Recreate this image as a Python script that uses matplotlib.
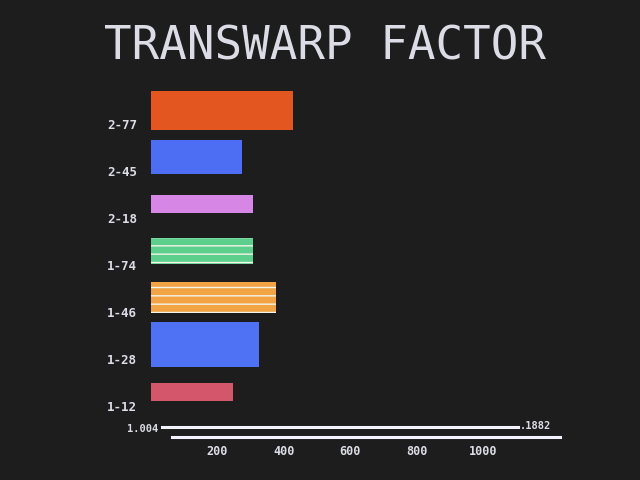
import numpy as np
import matplotlib.pyplot as plt

# data
labels = ['2-77', '2-45', '2-18', '1-74', '1-46', '1-28', '1-12']
values = [428, 274, 307, 307, 377, 325, 247]
colors = ['#e4561f', '#4d6ef2', '#d687e6', '#5ccf8c', '#f2a344', '#4f72f4', '#d4566a']
hatches = [None, None, None, '--', '--', None, None]
thick = [0.83, 0.72, 0.40, 0.55, 0.66, 0.96, 0.40]
xticks = [200, 400, 600, 800, 1000]

bg = '#1d1d1d'
fg = '#dcdce6'

fig = plt.figure(figsize=(6.4, 4.8), dpi=100, facecolor=bg)
# axes from x=151px to 560px, y=80px to 445px
ax = fig.add_axes([151/640, 1-445/480, (560-151)/640, (445-80)/480], facecolor=bg)

y = np.arange(len(labels))
for i in range(len(labels)):
    ec = '#f4f4e8' if hatches[i] else colors[i]
    ax.barh(y[i], values[i], height=thick[i], color=colors[i],
            edgecolor=ec, linewidth=0, hatch=hatches[i])

ax.set_xlim(0, 1232)
ax.set_ylim(7.13, -0.64)

for s in ax.spines.values():
    s.set_visible(False)

ax.set_yticks(y + 0.3)
ax.set_yticklabels(labels, color=fg, fontsize=9, family='DejaVu Sans Mono', fontweight='bold')
ax.tick_params(axis='y', length=0, pad=10)

ax.set_xticks(xticks)
ax.set_xticklabels([str(v) for v in xticks], color=fg, fontsize=8.5,
                   family='DejaVu Sans Mono', fontweight='bold')
ax.tick_params(axis='x', length=0, pad=0)

# double axis line at the bottom
ax.plot([33, 1104], [6.745, 6.745], color='#f2f2ff', lw=2.2, clip_on=False)
ax.plot([63, 1232], [6.957, 6.957], color='#f2f2ff', lw=2.2, clip_on=False)
ax.text(22, 6.8, '1.004', color=fg, fontsize=7.5, ha='right', va='center',
        family='DejaVu Sans Mono', fontweight='bold')
ax.text(1112, 6.72, '.1882', color=fg, fontsize=7.5, ha='left', va='center',
        family='DejaVu Sans Mono', fontweight='bold')

fig.text(325/640, 1-59/480, 'TRANSWARP FACTOR', color=fg, fontsize=33,
         family='DejaVu Sans Mono', ha='center', va='baseline')

fig.savefig('out.png', dpi=100, facecolor=bg)
